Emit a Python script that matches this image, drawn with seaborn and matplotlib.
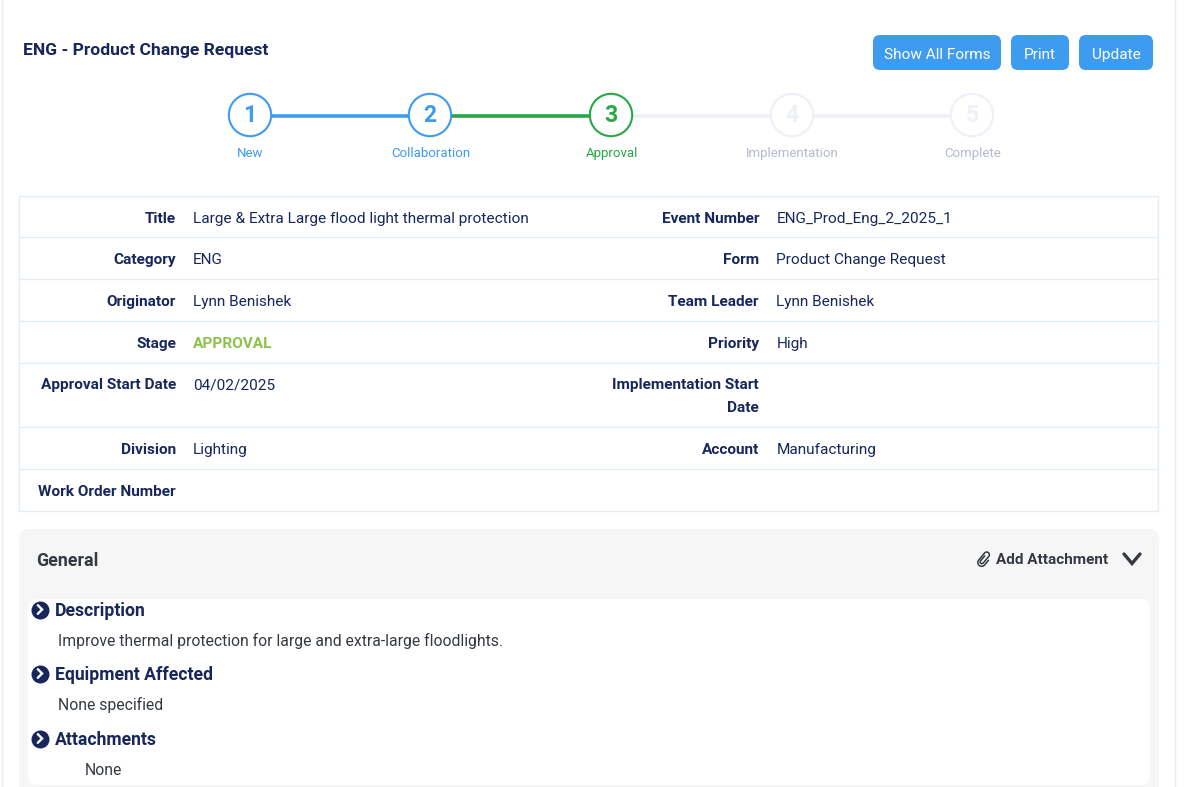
import numpy as np
import pandas as pd
import seaborn as sns
import matplotlib.pyplot as plt
from matplotlib.patches import FancyBboxPatch, Rectangle

# stepper
step_numbers = ['1', '2', '3', '4', '5']
step_names = ['New', 'Collaboration', 'Approval', 'Implementation', 'Complete']
step_colors = ['#3d9bf0', '#3d9bf0', '#28a745', '#eef0f7', '#eef0f7']
step_name_colors = ['#3d9bf0', '#3d9bf0', '#28a745', '#b4bacd', '#b4bacd']
link_colors = ['#3d9bf0', '#28a745', '#eef0f7', '#eef0f7']

# header table
left_labels = ['Title', 'Category', 'Originator', 'Stage', 'Approval Start Date', 'Division', 'Work Order Number']
left_values = ['Large & Extra Large flood light thermal protection', 'ENG', 'Lynn Benishek',
               'APPROVAL', '04/02/2025', 'Lighting', '']
right_labels = ['Event Number', 'Form', 'Team Leader', 'Priority', 'Implementation Start\nDate', 'Account', '']
right_values = ['ENG_Prod_Eng_2_2025_1', 'Product Change Request', 'Lynn Benishek', 'High', '', 'Manufacturing', '']

buttons = ['Show All Forms', 'Print', 'Update']
sections = ['Description', 'Equipment Affected', 'Attachments']
section_texts = ['Improve thermal protection for large and extra-large floodlights.', 'None specified', 'None']

NAVY = '#17275c'
GREY = '#343a40'
BLUE = '#3d9bf0'
EDGE = '#e3ecf8'

sns.set_theme(style='white')
plt.rcParams['font.family'] = ['Roboto', 'DejaVu Sans']

fig, ax = plt.subplots(figsize=(11.84, 7.87), dpi=100)
fig.subplots_adjust(0, 0, 1, 1)
ax.set_xlim(0, 1184)
ax.set_ylim(787, 0)
ax.axis('off')


def box(x0, y0, x1, y1, color, r=8, z=1):
    ax.add_patch(FancyBboxPatch((x0 + r, y0 + r), x1 - x0 - 2 * r, y1 - y0 - 2 * r,
                                boxstyle=f'round,pad={r},rounding_size={r}',
                                fc=color, ec='none', zorder=z))


# y is the text baseline here
def label(x, y, s, size=15.4, color=NAVY, weight='normal', ha='left', z=6, **kw):
    ax.text(x, y, s, fontsize=size * 0.72, color=color, fontweight=weight,
            ha=ha, va='baseline', zorder=z, **kw)


# page frame
ax.plot([1.5, 1.5], [0, 787], color=EDGE, lw=1)
ax.plot([1174.5, 1174.5], [0, 787], color=EDGE, lw=1)

# heading and buttons
label(23, 55, 'ENG - Product Change Request', size=17.5, weight='bold')
button_edges = [(873, 1001), (1011, 1069), (1079, 1153)]
for name, (x0, x1) in zip(buttons, button_edges):
    box(x0, 35, x1, 70, BLUE, r=7)
    label((x0 + x1) / 2, 59, name, size=15.4, color='white', ha='center')

# stepper, links first so the circles sit on top
step_x = [250, 430, 611, 792, 972]
for i, c in enumerate(link_colors):
    sns.lineplot(x=step_x[i:i + 2], y=[116.2, 116.2], color=c, linewidth=2.6, ax=ax,
                 errorbar=None, zorder=2, legend=False)
steps = pd.DataFrame({'x': step_x, 'y': [115] * 5, 'step': step_numbers})
sns.scatterplot(data=steps, x='x', y='y', hue='step', palette=dict(zip(step_numbers, step_colors)),
                facecolor='white', s=930, linewidth=1.5, ax=ax, legend=False, zorder=3)
# seaborn colours the face by hue, move that colour to the edge
coll = ax.collections[-1]
coll.set_edgecolor(step_colors)
coll.set_facecolor('white')
for x, num, name, c, nc in zip(step_x, step_numbers, step_names, step_colors, step_name_colors):
    label(x, 121.5, num, size=23, color=c, weight='bold', ha='center')
    label(x + 0.5, 157, name, size=13.3, color=nc, ha='center')
ax.set_xlabel('')
ax.set_ylabel('')

# table
rows = [195.5, 236.5, 278.5, 320.5, 362.5, 426.5, 468.5, 510.5]
ax.add_patch(Rectangle((18.5, 195.5), 1139, 315, fc='white', ec=EDGE, lw=1, zorder=1))
for y in rows[1:-1]:
    ax.plot([18.5, 1157.5], [y, y], color=EDGE, lw=1, zorder=2)
text_y = [223, 264, 306, 348, 389, 454, 496]
for y, ll, lv, rl, rv in zip(text_y, left_labels, left_values, right_labels, right_values):
    label(176, y, ll, weight='bold', ha='right')
    if lv == 'APPROVAL':
        label(193.2, y, lv, color='#8bc34a', weight='bold')
    else:
        label(193.2, y, lv)
    if '\n' in rl:
        top, bottom = rl.split('\n')
        label(759, y, top, weight='bold', ha='right')
        label(759, y + 23, bottom, weight='bold', ha='right')
    else:
        label(759, y, rl, weight='bold', ha='right')
    label(776.5, y, rv)

# general panel
box(19, 529, 1159, 800, '#f6f6f6', r=10, z=1)
box(28, 599, 1150, 785, 'white', r=10, z=2)
label(36.5, 566, 'General', size=17.7, color=GREY, weight='bold')
label(996, 564, 'Add Attachment', size=15.3, color=GREY, weight='bold')
ax.plot([1124, 1132, 1140], [554, 563.5, 554], color=GREY, lw=2.4, zorder=6,
        solid_capstyle='round', solid_joinstyle='miter')


# paperclip, drawn along its own axis and then turned 45 degrees
def arc(cx, cy, r, a0, a1):
    t = np.radians(np.linspace(a0, a1, 16))
    return cx + r * np.cos(t), cy + r * np.sin(t)


parts = [arc(-4, -0.6, 1.7, 90, 270), arc(4.6, 0.4, 2.7, -90, 90), arc(-4.6, -0.8, 3.8, 90, 270)]
clip_u = np.concatenate([[2.5]] + [p[0] for p in parts] + [[1.5]])
clip_v = np.concatenate([[1.1]] + [p[1] for p in parts] + [[-4.6]])
ang = np.radians(50)
ax.plot(984 + clip_u * np.cos(ang) - clip_v * np.sin(ang),
        558.5 - clip_u * np.sin(ang) - clip_v * np.cos(ang),
        color=GREY, lw=1.1, zorder=6)

# sections
section_y = [610, 674, 739]
name_base = [616, 680, 745]
text_pos = [(58, 646), (58, 710), (85, 775)]
for name, body, y, by, (tx, ty) in zip(sections, section_texts, section_y, name_base, text_pos):
    ax.scatter([40], [y - 0.5], s=168, color=NAVY, zorder=5, linewidths=0)
    ax.plot([37.8, 42.1, 37.8], [y - 4.8, y - 0.5, y + 3.8], color='white', lw=1.7, zorder=6,
            solid_joinstyle='miter')
    label(55, by, name, size=17.6, weight='bold')
    label(tx, ty, body, size=15.7, color=GREY)

fig.savefig('out.png', dpi=100, facecolor='white')
